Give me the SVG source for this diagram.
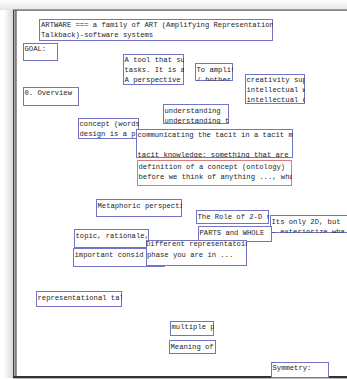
<svg xmlns="http://www.w3.org/2000/svg" width="347" height="379" viewBox="0 0 347 379">
<defs>
<linearGradient id="shTop" x1="0" y1="0" x2="0" y2="1"><stop offset="0" stop-color="#ffffff"/><stop offset="1" stop-color="#e4e4e4"/></linearGradient>
<linearGradient id="shLeft" x1="0" y1="0" x2="1" y2="0"><stop offset="0" stop-color="#ffffff"/><stop offset="1" stop-color="#d8d8d8"/></linearGradient>
</defs>
<style>
.b{fill:#fff;stroke:#7474c4;stroke-width:1}
.r{fill:#fff;stroke:#d87a7a;stroke-width:1}
text{font-family:"Liberation Mono","DejaVu Sans Mono",monospace;font-size:7.2px;fill:#1e1e1e}
</style>
<rect width="347" height="379" fill="#fff"/>
<rect x="0" y="0" width="347" height="10" fill="url(#shTop)"/>
<rect x="4" y="10" width="9" height="368" fill="url(#shLeft)"/>
<g id="frame">
<rect x="13" y="9.5" width="334" height="1.2" fill="#555"/>
<rect x="13" y="10" width="1.5" height="368" fill="#444"/>
<rect x="14.5" y="10" width="1" height="368" fill="#aaa"/>
<rect x="15.5" y="10" width="1" height="367" fill="#333"/>
<rect x="13" y="376" width="334" height="2" fill="#333"/>
<rect x="13" y="378" width="334" height="1" fill="#bbb"/>
</g>
<g id="connectors"></g>

<g id="n-artware"><svg x="39" y="19" width="234" height="22" overflow="hidden"><rect class="b" x="0.5" y="0.5" width="233" height="21"/><text x="2" y="8">ARTWARE === a family of ART (Amplifying Representation</text><text x="2" y="18">Talkback)-software systems</text></svg></g>
<g id="n-goal"><svg x="23" y="43" width="35" height="18" overflow="hidden"><rect class="b" x="0.5" y="0.5" width="34" height="17"/><text x="1.5" y="8">GOAL:</text></svg></g>
<g id="n-tool"><svg x="123" y="54" width="61" height="31" overflow="hidden"><rect class="b" x="0.5" y="0.5" width="60" height="30"/><text x="1.5" y="7.5">A tool that supports</text><text x="1.5" y="17.5">tasks. It is a</text><text x="1.5" y="28">A perspective</text></svg></g>
<g id="n-ampli"><svg x="195" y="63" width="38" height="18" overflow="hidden"><rect class="b" x="0.5" y="0.5" width="37" height="17"/><text x="1.5" y="8.5">To amplify</text><text x="1.5" y="18.5">/ bother</text></svg></g>
<g id="n-creativity"><svg x="245" y="74" width="60" height="30" overflow="hidden"><rect class="b" x="0.5" y="0.5" width="59" height="29"/><text x="1.5" y="8">creativity support</text><text x="1.5" y="18">intellectual work</text><text x="1.5" y="28">intellectual chall</text></svg></g>
<g id="n-overview"><svg x="23" y="87" width="56" height="19" overflow="hidden"><rect class="b" x="0.5" y="0.5" width="55" height="18"/><text x="1.5" y="8">0. Overview</text></svg></g>
<g id="n-understanding"><svg x="163" y="104" width="66" height="20" overflow="hidden"><rect class="b" x="0.5" y="0.5" width="65" height="19"/><text x="1.5" y="8.5">understanding</text><text x="1.5" y="18.5">understanding t</text></svg></g>
<g id="n-concept"><svg x="78" y="118" width="61" height="21" overflow="hidden"><rect class="b" x="0.5" y="0.5" width="60" height="20"/><text x="1.5" y="8">concept (words</text><text x="1.5" y="18">design is a p</text></svg></g>
<g id="n-communicating"><svg x="136" y="129" width="157" height="29" overflow="hidden"><rect class="b" x="0.5" y="0.5" width="156" height="28"/><text x="1.5" y="8">communicating the tacit in a tacit manner</text><text x="1.5" y="27.5">tacit knowledge: something that are</text></svg></g>
<g id="n-definition"><svg x="137" y="160" width="155" height="26" overflow="hidden"><rect class="r" x="0.5" y="0.5" width="154" height="25"/><text x="1.5" y="8.5">definition of a concept (ontology)</text><text x="1.5" y="18.5">before we think of anything ..., what</text></svg></g>
<g id="n-metaphoric"><svg x="96" y="199" width="86" height="18" overflow="hidden"><rect class="b" x="0.5" y="0.5" width="85" height="17"/><text x="1.5" y="8.5">Metaphoric perspective</text></svg></g>
<g id="n-role"><svg x="196" y="210" width="73" height="14" overflow="hidden"><rect class="b" x="0.5" y="0.5" width="72" height="13"/><text x="1.5" y="9">The Role of 2-D r</text></svg></g>
<g id="n-its"><svg x="270" y="215" width="80" height="18" overflow="hidden"><rect class="b" x="0.5" y="0.5" width="80" height="17"/><text x="1.5" y="8.5">Its only 2D, but</text><text x="1.5" y="19">- exteriorize wha</text></svg></g>
<g id="n-parts"><svg x="198" y="226" width="74" height="16" overflow="hidden"><rect class="b" x="0.5" y="0.5" width="73" height="15"/><text x="1.5" y="9">PARTS and WHOLE</text></svg></g>
<g id="n-topic"><svg x="74" y="229" width="75" height="19" overflow="hidden"><rect class="b" x="0.5" y="0.5" width="74" height="18"/><text x="1.5" y="8.5">topic, rationale,</text></svg></g>
<g id="n-important"><svg x="73" y="248" width="92" height="19" overflow="hidden"><rect class="b" x="0.5" y="0.5" width="91" height="18"/><text x="1.5" y="9">important consid</text></svg></g>
<g id="n-different"><svg x="146" y="240" width="101" height="26" overflow="hidden"><rect class="b" x="0.5" y="0.5" width="100" height="25"/><text x="0" y="6">Different representatoin</text><text x="1" y="17">phase you are in ...</text></svg></g>
<g id="n-representational"><svg x="36" y="291" width="86" height="16" overflow="hidden"><rect class="b" x="0.5" y="0.5" width="85" height="15"/><text x="1.5" y="8.5">representational talkback</text></svg></g>
<g id="n-multiple"><svg x="170" y="321" width="44" height="15" overflow="hidden"><rect class="b" x="0.5" y="0.5" width="43" height="14"/><text x="1.5" y="8">multiple p</text></svg></g>
<g id="n-meaning"><svg x="169" y="340" width="47" height="14" overflow="hidden"><rect class="b" x="0.5" y="0.5" width="46" height="13"/><text x="1.5" y="8.5">Meaning of</text></svg></g>
<g id="n-symmetry"><svg x="271" y="362" width="58" height="16" overflow="hidden"><rect class="b" x="0.5" y="0.5" width="57" height="15"/><text x="1.5" y="8">Symmetry:</text></svg></g>
</svg>
